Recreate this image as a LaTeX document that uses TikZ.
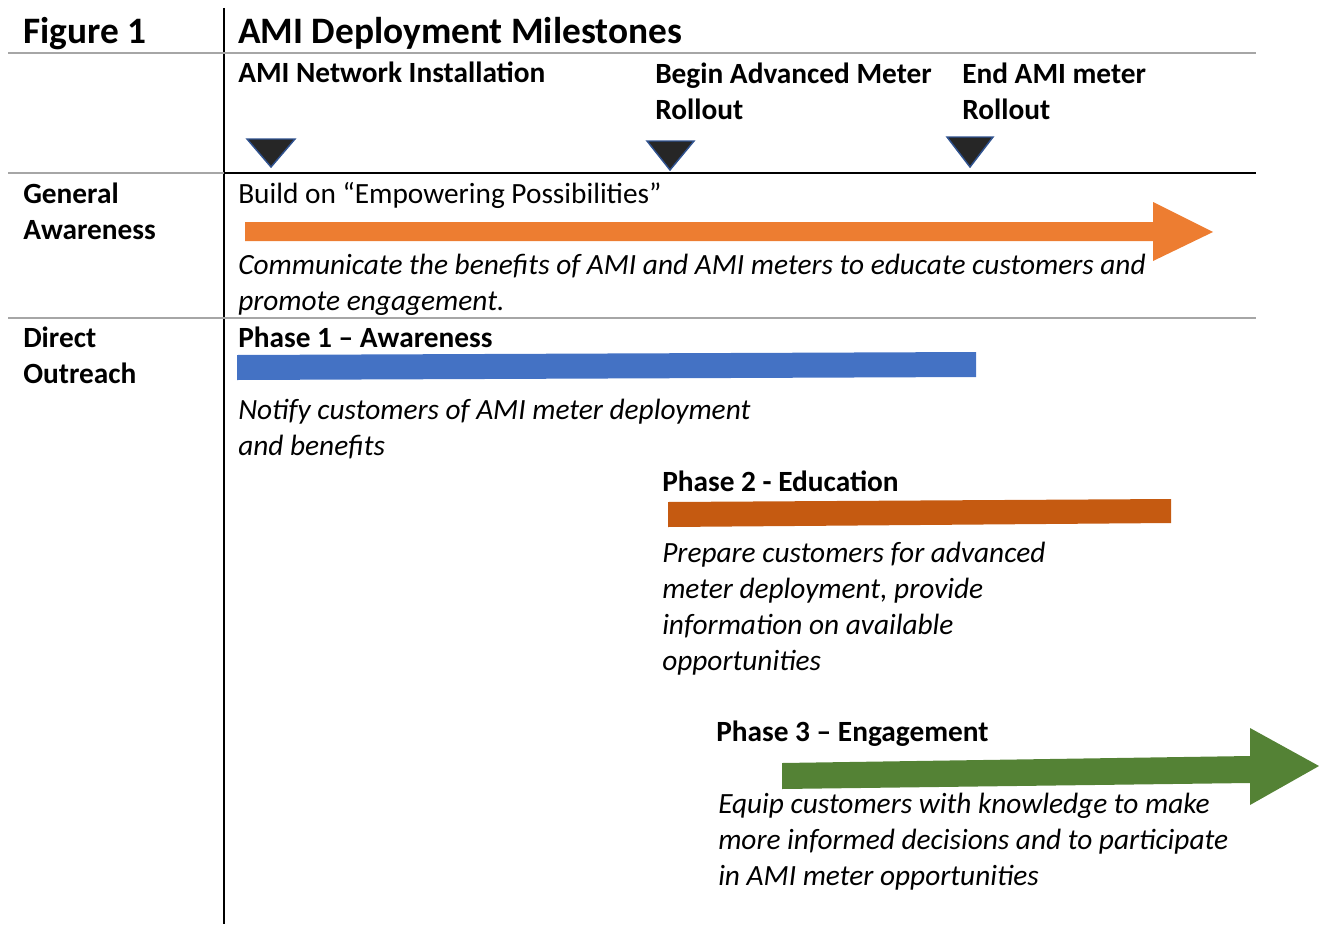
\documentclass[tikz,border=0pt]{standalone}
\usepackage{fontspec}
\setmainfont{Carlito}
\definecolor{rulegray}{HTML}{A6A6A6}
\definecolor{arrorange}{HTML}{ED7D31}
\definecolor{barblue}{HTML}{4472C4}
\definecolor{barbrown}{HTML}{C55A11}
\definecolor{arrgreen}{HTML}{548235}
\definecolor{tridark}{HTML}{262626}
\definecolor{triedge}{HTML}{2F528F}
\begin{document}
\begin{tikzpicture}[x=0.75pt,y=-0.75pt,
  titletext/.style={anchor=base west,inner sep=0pt,font=\fontsize{28}{32}\selectfont\bfseries},
  headtext/.style={anchor=base west,inner sep=0pt,align=left,font=\fontsize{22}{27}\selectfont\bfseries},
  bodytext/.style={anchor=base west,inner sep=0pt,align=left,font=\fontsize{22}{27}\selectfont},
  desctext/.style={anchor=base west,inner sep=0pt,align=left,font=\fontsize{22}{27}\selectfont\itshape},
  grayrule/.style={draw=rulegray,line width=1.5pt},
  blackrule/.style={draw=black,line width=1.5pt},
  milestone/.style={fill=tridark,draw=triedge,line width=1.1pt,line join=miter}]
\useasboundingbox (0,0) rectangle (1319,924);

% grid lines
\coordinate (vtop) at (224,8);
\coordinate (vbot) at (224,924);
\draw[blackrule] (vtop) -- (vbot);
\draw[grayrule] (8,53) -- (1256,53);
\draw[grayrule] (8,173) -- (224,173);
\draw[blackrule] (224,173) -- (1256,173);
\draw[grayrule] (8,318) -- (1256,318);

% titles
\node[titletext] (fig) at (23,44) {Figure 1};
\node[titletext] (title) at (238,44) {AMI Deployment Milestones};

% milestones (base anchor = last line baseline)
\node[headtext] (m1) at (238,83) {AMI Network Installation};
\node[headtext] (m2) at (655,119) {Begin Advanced Meter\\Rollout};
\node[headtext] (m3) at (962,119) {End AMI meter\\Rollout};
\draw[milestone] (247,139) -- (295,139) -- (271,167) -- cycle;
\draw[milestone] (647,141) -- (694,141) -- (670,170) -- cycle;
\draw[milestone] (947,137) -- (993,137) -- (970,167) -- cycle;

% general awareness
\node[headtext] (ga) at (23,239) {General\\Awareness};
\node[bodytext] (build) at (238,203) {Build on “Empowering Possibilities”};
\fill[arrorange] (245,222) -- (1153,222) -- (1153,202) -- (1213,232) -- (1153,261) -- (1153,241) -- (245,241) -- cycle;
\node[desctext] (comm) at (238,310) {Communicate the benefits of AMI and AMI meters to educate customers and\\promote engagement.};

% direct outreach
\node[headtext] (do) at (23,383) {Direct\\Outreach};
\node[headtext] (p1) at (238,347) {Phase 1 – Awareness};
\fill[barblue] (237,355) -- (976,352) -- (976,377) -- (237,380) -- cycle;
\node[desctext] (p1d) at (238,455) {Notify customers of AMI meter deployment\\and benefits};

\node[headtext] (p2) at (662,491) {Phase 2 - Education};
\fill[barbrown] (668,502) -- (1171,499) -- (1171,523) -- (668,527) -- cycle;
\node[desctext] (p2d) at (662,670) {Prepare customers for advanced\\meter deployment, provide\\information on available\\opportunities};

\node[headtext] (p3) at (716,741) {Phase 3 – Engagement};
\fill[arrgreen] (782,763) -- (1250,756) -- (1250,728) -- (1319,766) -- (1250,805) -- (1250,783) -- (782,789) -- cycle;
\node[desctext] (p3d) at (718,885) {Equip customers with knowledge to make\\more informed decisions and to participate\\in AMI meter opportunities};
\end{tikzpicture}
\end{document}
